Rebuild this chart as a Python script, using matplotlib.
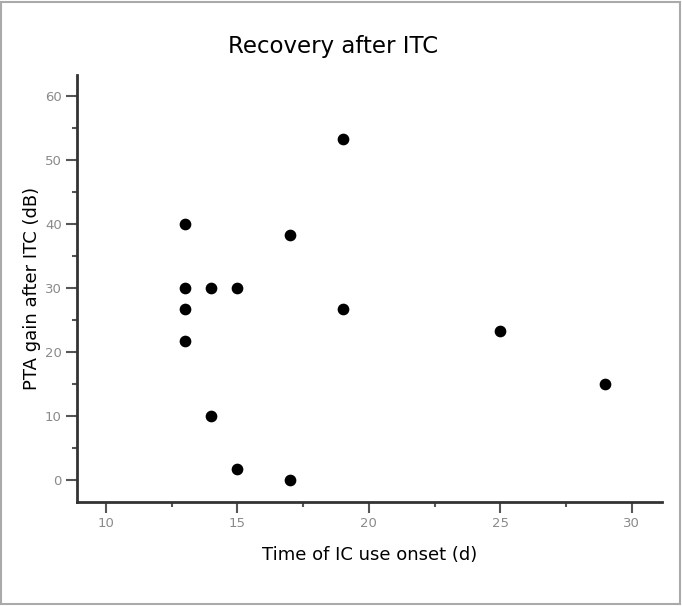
import matplotlib.pyplot as plt
from matplotlib.patches import Rectangle
from matplotlib.ticker import MultipleLocator

onset_days = [13, 13, 13, 13, 14, 14, 15, 15, 17, 17, 19, 19, 25, 29]
pta_gain = [40, 30, 26.7, 21.7, 30, 10, 30, 1.7, 38.3, 0, 53.3, 26.7, 23.3, 15]

fig = plt.figure(figsize=(6.82, 6.06), dpi=100)
ax = fig.add_axes([0.1129, 0.1716, 0.8578, 0.7046])

ax.scatter(onset_days, pta_gain, s=55, color='black', zorder=3)

ax.set_xlim(8.9, 31.15)
ax.set_ylim(-3.4, 63.3)
ax.xaxis.set_major_locator(MultipleLocator(5))
ax.xaxis.set_minor_locator(MultipleLocator(2.5))
ax.yaxis.set_major_locator(MultipleLocator(10))
ax.yaxis.set_minor_locator(MultipleLocator(5))

for side in ['top', 'right']:
    ax.spines[side].set_visible(False)
for side in ['left', 'bottom']:
    ax.spines[side].set_linewidth(2)
    ax.spines[side].set_color('#333333')

ax.tick_params(which='major', length=8, width=1.5, color='#555555',
               labelsize=9.5, labelcolor='#8a8a8a', pad=3)
ax.tick_params(which='minor', length=3.6, width=1.5, color='#555555')

# title sits a bit left of the axes centre in the original
ax.set_title('Recovery after ITC', fontsize=16.5, pad=16, x=0.438)
ax.set_xlabel('Time of IC use onset (d)', fontsize=13, labelpad=11)
ax.set_ylabel('PTA gain after ITC (dB)', fontsize=13, labelpad=3)

# grey frame around the whole picture
fig.patches.append(Rectangle((0.002, 0.003), 0.995, 0.994, transform=fig.transFigure,
                             fill=False, edgecolor='#aaaaaa', linewidth=1.5))

plt.savefig('out.png', dpi=100)
